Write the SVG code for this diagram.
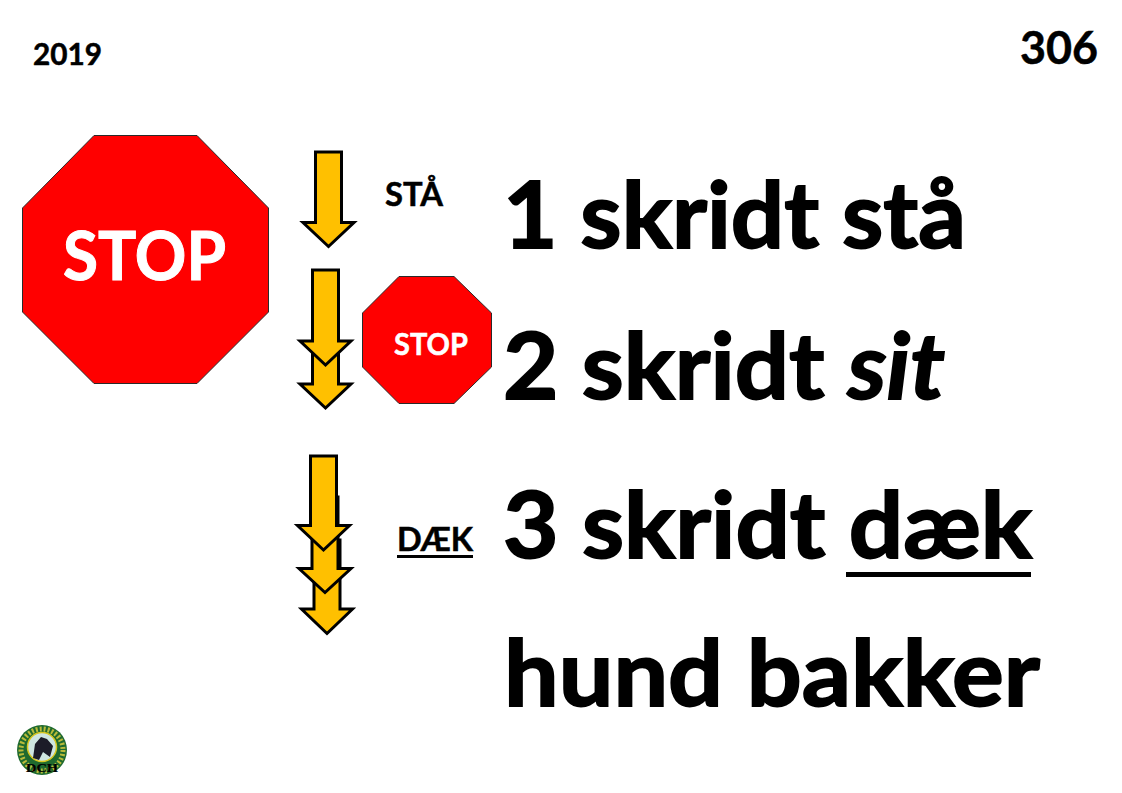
<svg xmlns="http://www.w3.org/2000/svg" width="1122" height="793" viewBox="0 0 1122 793">
<style>
text{font-family:"Lato","Open Sans","Liberation Sans",sans-serif;font-weight:700;fill:#000;stroke:#000;stroke-width:.5}
.big{font-size:91px;stroke-width:1.8}
.arrow{fill:#ffc000;stroke:#000;stroke-width:3;stroke-linejoin:miter}
.stop{fill:#f00;stroke:#2a2a2a;stroke-width:1}
text.w{fill:#fff;stroke:#fff}
</style>
<rect width="1122" height="793" fill="#fff"/>
<g id="year"><text x="33" y="65" font-size="30" textLength="69" lengthAdjust="spacingAndGlyphs">2019</text></g>
<g id="page"><text x="1020" y="64" font-size="46" textLength="78" lengthAdjust="spacingAndGlyphs">306</text></g>
<g id="stop-large">
<polygon class="stop" points="94,135.500 197,135.500 268.500,208 268.500,312 197,383.500 94,383.500 22.500,312 22.500,208"/>
<text class="w" x="63" y="280" font-size="66" textLength="163" lengthAdjust="spacingAndGlyphs" style="stroke-width:1">STOP</text>
</g>
<g id="stop-small">
<polygon class="stop" points="399,276.500 454,276.500 491.500,313 491.500,367 454,403.500 399,403.500 362.500,367 362.500,313"/>
<text class="w" x="394" y="355" font-size="30" textLength="74" lengthAdjust="spacingAndGlyphs">STOP</text>
</g>
<g id="connectors">
<polygon class="arrow" points="315.500,152 341.500,152 341.500,222.500 354,222.500 328.500,246.500 303,222.500 315.500,222.500"/>
<polygon class="arrow" points="312.500,300 338.500,300 338.500,384 351,384 325.500,408 300,384 312.500,384"/>
<polygon class="arrow" points="312.500,270 338.500,270 338.500,341 351,341 325.500,365 300,341 312.500,341"/>
<polygon class="arrow" points="314,540 340,540 340,609 352.500,609 327,633.500 301.500,609 314,609"/>
<polygon class="arrow" points="312,497 338,497 338,568.500 351,568.500 325,592.500 299,568.500 312,568.500"/>
<polygon class="arrow" points="310.500,456 336.500,456 336.500,525.500 349.500,525.500 323.500,550 297.500,525.500 310.500,525.500"/>
</g>
<g id="label-sta"><text x="385" y="206" font-size="32" textLength="58" lengthAdjust="spacingAndGlyphs">STÅ</text></g>
<g id="label-daek"><text x="397" y="551" font-size="32" textLength="76" lengthAdjust="spacingAndGlyphs">DÆK</text><rect x="397" y="555" width="76" height="3"/></g>
<g id="line-1"><text class="big" x="503" y="248" textLength="463" lengthAdjust="spacingAndGlyphs">1 skridt stå</text></g>
<g id="line-2"><text class="big" x="503" y="399" textLength="442" lengthAdjust="spacingAndGlyphs">2 skridt <tspan font-style="italic">sit</tspan></text></g>
<g id="line-3"><text class="big" x="503" y="558" textLength="529" lengthAdjust="spacingAndGlyphs">3 skridt dæk</text><rect x="846" y="572" width="185" height="5"/></g>
<g id="line-4"><text class="big" x="504" y="706" textLength="536" lengthAdjust="spacingAndGlyphs">hund bakker</text></g>
<g id="logo">
<circle cx="42" cy="750" r="25" fill="#1f6a2e"/>
<circle cx="42" cy="750" r="21" fill="none" stroke="#b9bb3a" stroke-width="5" stroke-dasharray="2 2"/>
<circle cx="42" cy="747" r="14.500" fill="#cfe6e0" stroke="#d8c820" stroke-width="1.500"/>
<path d="M33,758 L35,744 L41,737 L47,739 L53,746 L50,757 L43,752 L39,760 Z" fill="#1c1c28"/>
<text x="26" y="772" font-size="12" textLength="32" lengthAdjust="spacingAndGlyphs" style="font-family:'Liberation Serif',serif;stroke-width:.2">DCH</text>
</g>
</svg>
